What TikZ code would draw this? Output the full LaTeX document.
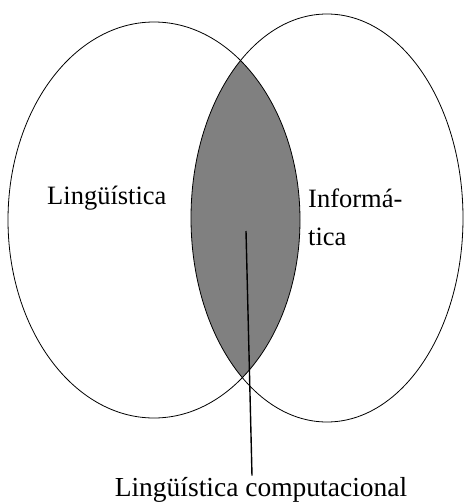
\documentclass[tikz,border=0pt]{standalone}
\usepackage{fontspec}
\setmainfont{Liberation Serif}
\usepackage{tikz}

\begin{document}
\begin{tikzpicture}[x=1pt,y=-1pt,
    set/.style={draw,line width=0.8pt},
    setname/.style={font=\fontsize{26.5}{38}\selectfont,inner sep=0pt},
    pointer/.style={line width=1.4pt}]
  \useasboundingbox (0,0) rectangle (463,503);
  % shared area of both sets
  \begin{scope}
    \clip (154,220) ellipse [x radius=146,y radius=198];
    \fill[gray] (327,218) ellipse [x radius=136,y radius=204];
  \end{scope}
  \draw[set] (154,220) ellipse [x radius=146,y radius=198];
  \draw[set] (327,218) ellipse [x radius=136,y radius=204];

  \node[setname,anchor=base west] (ling) at (47,204) {Lingüística};
  \node[setname,anchor=base west] (info) at (308,207) {Informá-};
  \node[setname,anchor=base west] (info2) at (308,245) {tica};

  \coordinate (mid) at (246,231);
  \node[font=\fontsize{27.5}{33}\selectfont,inner sep=1pt,anchor=base] (comp) at (261,496) {Lingüística computacional};
  \draw[pointer] (mid) -- ([xshift=-9]comp.north);
\end{tikzpicture}
\end{document}
